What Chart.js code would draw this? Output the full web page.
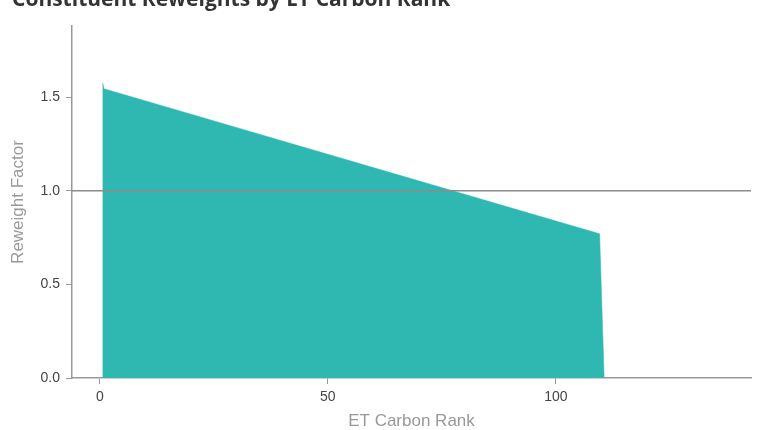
<!DOCTYPE html>
<html>
<head>
<meta charset="utf-8">
<script src="https://cdn.jsdelivr.net/npm/chart.js@4"></script>
<style>
    html, body { margin: 0; padding: 0; background: #fff; overflow: hidden; }
    #wrap { position: relative; width: 758px; height: 430px; }
    #title {
        position: absolute; left: 12px; top: -16px;
        font: bold 21px "Open Sans", "Noto Sans", sans-serif; color: #333;
        white-space: nowrap;
    }
</style>
</head>
<body>
<div id="wrap">
    <div id="title">Constituent Reweights by ET Carbon Rank</div>
    <canvas id="reweightChart" width="758" height="430"></canvas>
</div>
<script>
// ET carbon rank positions and reweight factors
const rankPoints = [0.65, 0.65, 0.9, 109.6, 110.6];
const reweightValues = [0, 1.573, 1.545, 0.77, 0];

const xTickValues = [0, 50, 100];
const yTickValues = [0, 0.5, 1.0, 1.5];
const xRange = [-6.1, 142.8];
const yRange = [0, 1.88];
const neutralLevel = 1.0;

const areaData = rankPoints.map((r, i) => ({ x: r, y: reweightValues[i] }));
const neutralData = xRange.map(r => ({ x: r, y: neutralLevel }));

const ctx = document.getElementById('reweightChart').getContext('2d');

new Chart(ctx, {
    type: 'line',
    data: {
        datasets: [
            {
                label: 'Neutral',
                data: neutralData,
                borderColor: '#8c8c8c',
                borderWidth: 1.5,
                pointRadius: 0,
                fill: false,
                order: 0
            },
            {
                label: 'Reweight',
                data: areaData,
                borderColor: '#2eb8b1',
                borderWidth: 0.5,
                backgroundColor: '#2eb8b1',
                pointRadius: 0,
                tension: 0,
                fill: 'origin',
                order: 1
            }
        ]
    },
    options: {
        responsive: false,
        animation: false,
        layout: { padding: { left: 8, right: 7, top: 26, bottom: 0 } },
        plugins: { legend: { display: false }, tooltip: { enabled: false } },
        scales: {
            x: {
                type: 'linear',
                min: xRange[0],
                max: xRange[1],
                afterBuildTicks: s => { s.ticks = xTickValues.map(v => ({ value: v })); },
                afterFit: s => { s.height = 52; },
                grid: { drawOnChartArea: false, color: '#999', tickLength: 6 },
                border: { color: '#999', width: 1.5 },
                ticks: { color: '#444', font: { family: 'Liberation Sans', size: 14 }, padding: 5 },
                title: {
                    display: true, text: 'ET Carbon Rank', color: '#999',
                    font: { family: 'Liberation Sans', size: 17 }, padding: { top: 8, bottom: -2 }
                }
            },
            y: {
                min: yRange[0],
                max: yRange[1],
                afterBuildTicks: s => { s.ticks = yTickValues.map(v => ({ value: v })); },
                afterFit: s => { s.width = 64; },
                grid: { drawOnChartArea: false, color: '#999', tickLength: 6 },
                border: { color: '#999', width: 1.5 },
                ticks: {
                    color: '#444', font: { family: 'Liberation Sans', size: 14 }, padding: 6,
                    callback: v => v.toFixed(1)
                },
                title: {
                    display: true, text: 'Reweight Factor', color: '#999',
                    font: { family: 'Liberation Sans', size: 17 }, padding: { top: 0, bottom: 0 }
                }
            }
        }
    }
});
</script>
</body>
</html>
